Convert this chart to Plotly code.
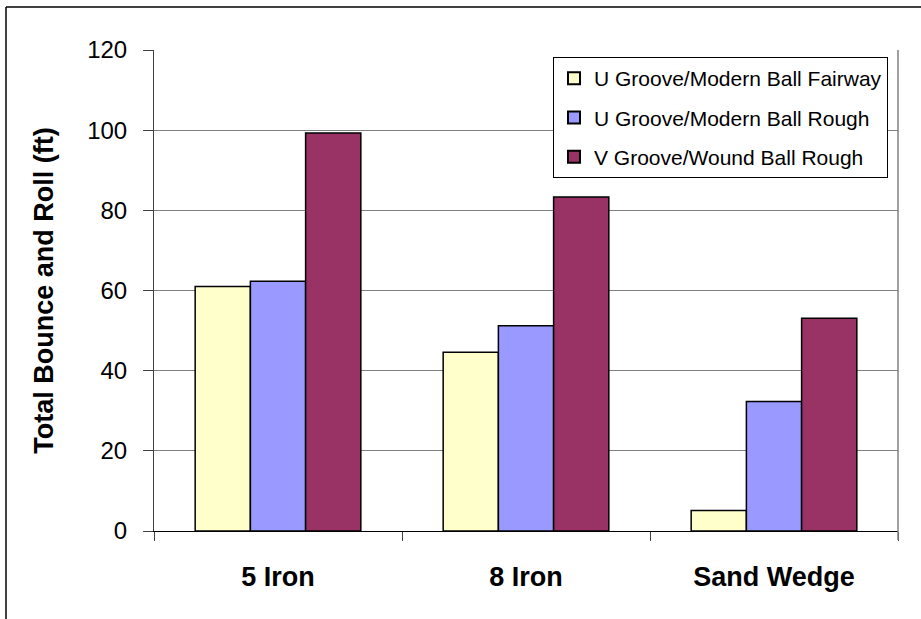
import plotly.graph_objects as go

categories = ["5 Iron", "8 Iron", "Sand Wedge"]
series_names = [
    "U Groove/Modern Ball Fairway",
    "U Groove/Modern Ball Rough",
    "V Groove/Wound Ball Rough",
]
fairway_u = [61.0, 44.6, 5.1]
rough_u = [62.3, 51.2, 32.3]
rough_v = [99.3, 83.3, 53.1]
colors = ["#FFFFCC", "#9999FF", "#993366"]
y_ticks = [0, 20, 40, 60, 80, 100, 120]

FONT = "Liberation Sans, Arial, sans-serif"

fig = go.Figure()
for i, (name, vals, col) in enumerate(zip(series_names, [fairway_u, rough_u, rough_v], colors)):
    fig.add_trace(go.Bar(
        x=categories, y=vals, name=name, legendgroup=f"g{i}",
        marker=dict(color=col, line=dict(color="black", width=1.5)),
    ))

W, H = 921, 619
L, R, T, B = 154, 23, 50, 88
pw, ph = W - L - R, H - T - B

def px_x(px):
    return (px - L) / pw

def px_y(py):
    return (H - B - py) / ph

fig.update_layout(
    width=W, height=H,
    margin=dict(l=L, r=R, t=T, b=B),
    paper_bgcolor="white", plot_bgcolor="white",
    barmode="group", bargap=0.332, bargroupgap=0,
    font=dict(family=FONT, color="black"),
    legend=dict(
        x=px_x(553), y=px_y(57), xanchor="left", yanchor="top",
        bordercolor="black", borderwidth=1, bgcolor="white",
        font=dict(size=21), tracegroupgap=9, traceorder="grouped",
        itemsizing="constant", itemwidth=30,
    ),
    xaxis=dict(
        tickson="boundaries", ticks="outside", ticklen=9, tickcolor="#404040",
        showline=True, linecolor="black", linewidth=1,
        tickfont=dict(size=27, family=FONT, weight="bold"),
        ticklabelstandoff=22,
        showgrid=False,
    ),
    yaxis=dict(
        range=[0, 120], tickvals=y_ticks, ticks="outside", ticklen=10,
        tickcolor="#404040", showline=True, linecolor="#404040", linewidth=1,
        gridcolor="#808080", gridwidth=1, zeroline=False,
        tickfont=dict(size=24), ticklabelstandoff=11,
        title=dict(text="<b>Total Bounce and Roll (ft)</b>", font=dict(size=27), standoff=25),
    ),
    shapes=[
        dict(type="line", xref="paper", yref="paper", x0=px_x(898), x1=px_x(898),
             y0=px_y(50), y1=px_y(540), line=dict(color="#808080", width=1.5)),
        dict(type="line", xref="paper", yref="paper", x0=px_x(6), x1=px_x(921),
             y0=px_y(7), y1=px_y(7), line=dict(color="black", width=1.5)),
        dict(type="line", xref="paper", yref="paper", x0=px_x(6), x1=px_x(6),
             y0=px_y(7), y1=px_y(619), line=dict(color="black", width=1.5)),
    ],
)

fig.write_html(
    "out.html",
    config={"displayModeBar": False},
    post_script="document.body.style.margin='0';document.body.style.overflow='hidden';",
)
